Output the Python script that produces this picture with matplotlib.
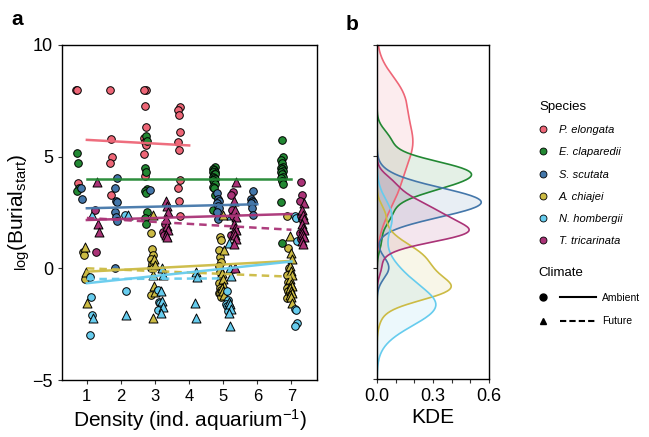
import numpy as np
import matplotlib
matplotlib.use('Agg')
import matplotlib.pyplot as plt
from matplotlib.lines import Line2D
from matplotlib.legend_handler import HandlerBase

plt.rcParams['font.family'] = ['Liberation Sans', 'DejaVu Sans']
plt.rcParams['mathtext.default'] = 'regular'

species = ['P. elongata', 'E. claparedii', 'S. scutata', 'A. chiajei', 'N. hombergii', 'T. tricarinata']
colors = ['#EE6677', '#228833', '#4477AA', '#CCBB44', '#66CCEE', '#AA3377']

# ambient (circles): density, value per species
amb_dens = [
    [1] * 3 + [2] * 5 + [3] * 9 + [4] * 10,
    [1] * 4 + [3] * 10 + [5] * 17 + [7] * 16,
    [1] * 2 + [2] * 8 + [3] * 2 + [5] * 8 + [6] * 7,
    [1] * 3 + [3] * 7 + [5] * 14 + [7] * 10,
    [1] * 4 + [2] * 2 + [3] * 4 + [5] * 5 + [7] * 7,
    [1] * 2 + [3] * 3 + [5] * 5 + [7] * 7,
]
amb_vals = [
    [8.0, 8.0, 3.8,
     8.0, 5.78, 5.0, 4.7, 3.28,
     8.0, 8.0, 7.28, 6.31, 5.82, 5.65, 5.5, 5.1, 4.15,
     7.2, 7.09, 6.87, 6.12, 5.67, 5.3, 3.95, 3.58, 3.0, 2.34],
    [5.18, 4.69, 3.6, 3.45,
     5.9, 5.7, 4.5, 4.3, 3.55, 3.45, 3.35, 2.54, 2.24, 2.0,
     4.55, 4.45, 4.4, 4.3, 4.3, 4.2, 4.2, 4.1, 4.05, 4.0, 3.95, 3.85, 3.75, 3.65, 3.58, 3.3, 2.6,
     5.75, 5.0, 4.85, 4.7, 4.55, 4.5, 4.45, 4.35, 4.3, 4.2, 4.1, 4.05, 3.9, 3.75, 2.98, 1.15],
    [3.6, 3.1,
     4.03, 3.6, 3.0, 2.95, 2.5, 2.3, 2.1, 0.0,
     3.5, 0.0,
     3.35, 3.1, 3.0, 2.9, 2.8, 2.7, 2.5, 2.2,
     3.45, 3.1, 3.0, 2.95, 2.9, 2.7, 2.4],
    [0.74, 0.6, -0.5,
     1.6, 0.85, 0.6, 0.4, 0.2, 0.0, -1.2,
     1.4, 1.27, 0.8, 0.5, 0.3, 0.1, -0.15, -0.45, -0.66, -0.9, -0.97, -1.1, -1.1, -1.3,
     2.34, 0.9, 0.0, -0.3, -0.6, -0.8, -0.9, -1.0, -1.2, -1.35],
    [-0.4, -1.3, -2.09, -3.0,
     2.4, -1.0,
     -0.95, -1.5, -1.55, -1.85,
     -1.0, -1.4, -1.6, -1.7, -1.9,
     2.34, 2.25, 1.2, -1.8, -1.87, -2.45, -2.6],
    [2.6, 0.72,
     2.0, 1.64, 1.5,
     3.4, 3.3, 2.6, 2.35, 1.5,
     3.85, 3.3, 3.0, 2.34, 2.2, 1.6, 1.3],
]

# future (triangles)
fut_dens = [
    [],
    [],
    [],
    [1] * 3 + [3] * 7 + [5] * 8 + [7] * 15,
    [1] * 2 + [2] * 2 + [3] * 6 + [4] * 4 + [5] * 9,
    [1] * 3 + [3] * 8 + [5] * 12 + [7] * 12,
]
fut_vals = [
    [],
    [],
    [],
    [0.97, -0.15, -1.54,
     2.38, 0.4, 0.15, -0.3, -0.8, -1.05, -2.24,
     2.38, 0.82, -0.2, -0.5, -0.8, -0.9, -1.0, -1.2,
     1.45, 0.67, 0.4, 0.1, -0.1, -0.3, -0.5, -0.7, -0.8, -0.9, -1.0, -1.1, -1.2, -1.3, -1.56],
    [2.38, -2.23,
     2.4, -2.09,
     0.0, -0.3, -1.0, -1.45, -1.72, -2.0,
     -0.15, -0.4, -1.54, -2.24,
     2.38, 1.12, 0.0, -0.35, -1.5, -1.6, -1.8, -2.0, -2.58],
    [3.85, 2.0, 1.64,
     3.0, 2.8, 2.5, 2.2, 1.9, 1.7, 1.5, 1.4,
     3.88, 3.0, 2.6, 2.3, 2.0, 1.8, 1.7, 1.6, 1.5, 1.3, 1.1, 0.0,
     2.9, 2.6, 2.4, 2.2, 2.0, 1.8, 1.7, 1.6, 1.5, 1.4, 1.2, 1.1],
]

# fitted lines (intercept, slope)
amb_fit = [(5.83, -0.083), (4.0, 0.0), (2.65, 0.036), (-0.23, 0.08), (-0.83, 0.162), (2.115, 0.045)]
fut_fit = [None, None, None, (0.063, -0.063), (-0.49, 0.0075), (2.34, -0.088)]

sp_off = [-0.27, -0.24, -0.12, -0.06, 0.15, 0.3]

fig = plt.figure(figsize=(6.49, 4.37), dpi=100)
ax = fig.add_axes([0.0955, 0.1304, 0.3935, 0.767])
ax2 = fig.add_axes([0.581, 0.1327, 0.1726, 0.7647])

for i in range(6):
    for dens, vals, mk, cl_off, sz in [(amb_dens[i], amb_vals[i], 'o', -0.03, 30),
                                       (fut_dens[i], fut_vals[i], '^', 0.04, 42)]:
        if len(dens) == 0:
            continue
        d = np.array(dens, dtype=float)
        jit = 0.03 * ((np.arange(len(d)) % 3) - 1)
        ax.scatter(d + sp_off[i] + cl_off + jit, vals, s=sz, marker=mk, c=colors[i],
                   edgecolors='black', linewidths=0.7, zorder=2)

for i in range(6):
    for dens, fit, ls in [(amb_dens[i], amb_fit[i], '-'), (fut_dens[i], fut_fit[i], (0, (3, 2)))]:
        if fit is None:
            continue
        xs = np.linspace(min(dens), max(dens), 20)
        ax.plot(xs, fit[0] + fit[1] * xs, color=colors[i], lw=1.8, ls=ls, zorder=3, alpha=0.95)

ax.set_xlim(0.27, 7.76)
ax.set_ylim(-5, 10)
ax.set_xticks(range(1, 8))
ax.set_yticks([-5, 0, 5, 10])
ax.tick_params(axis='y', labelsize=13, length=3, width=0.8, colors='#333333', labelcolor='black')
ax.tick_params(axis='x', labelsize=12, length=3, width=0.8, colors='#333333', labelcolor='black')
ax.set_xlabel('Density (ind. aquarium$^{-1}$)', fontsize=15, labelpad=2)
ax.set_ylabel('$_{log}$(Burial$_{start}$)', fontsize=15, labelpad=0)
for s in ax.spines.values():
    s.set_linewidth(1.0)

# KDE panel
grid = np.linspace(-5, 10, 400)
for i in range(6):
    v = np.array(amb_vals[i] + fut_vals[i])
    bw = v.std(ddof=1) * len(v) ** (-0.2)
    dens_k = np.exp(-0.5 * ((grid[:, None] - v[None, :]) / bw) ** 2).sum(axis=1)
    dens_k /= len(v) * bw * np.sqrt(2 * np.pi)
    ax2.fill_betweenx(grid, 0, dens_k, color=colors[i], alpha=0.12, lw=0)
    ax2.plot(dens_k, grid, color=colors[i], lw=1.2)

ax2.set_ylim(-5, 10)
ax2.set_xlim(0, 0.6)
ax2.set_yticks([-5, 0, 5, 10])
ax2.set_yticklabels([])
ax2.set_xticks([0, 0.1, 0.2, 0.3, 0.4, 0.5, 0.6])
ax2.set_xticklabels(['0.0', '', '', '0.3', '', '', '0.6'])
ax2.tick_params(labelsize=13, length=3, width=0.8, colors='#333333', labelcolor='black')
ax2.set_xlabel('KDE', fontsize=15, labelpad=2)
for s in ax2.spines.values():
    s.set_linewidth(1.0)

fig.text(0.018, 0.955, 'a', fontsize=15, fontweight='bold', va='center')
fig.text(0.532, 0.945, 'b', fontsize=15, fontweight='bold', va='center')

# legends
sp_handles = [Line2D([], [], marker='o', ls='none', markerfacecolor=c, markeredgecolor='black',
                     markeredgewidth=0.6, markersize=5) for c in colors]
leg1 = fig.legend(sp_handles, species, loc='upper left', bbox_to_anchor=(0.815, 0.792),
                  frameon=False, title='Species', fontsize=8, title_fontsize=9.5,
                  labelspacing=1.1, handlelength=0.8, handletextpad=1.0, alignment='left')
for t in leg1.get_texts():
    t.set_fontstyle('italic')


class PointLine(HandlerBase):
    def create_artists(self, legend, orig_handle, xdescent, ydescent, width, height, fontsize, trans):
        mk, ls = orig_handle
        y = height / 2 - ydescent
        pt = Line2D([-xdescent + 0.08 * width], [y], marker=mk, color='black', ls='none',
                    markersize=5, transform=trans)
        ln = Line2D([-xdescent + 0.38 * width, -xdescent + width], [y, y], color='black',
                    ls=ls, lw=1.5, transform=trans)
        return [pt, ln]


clim_handles = [('o', '-'), ('^', (0, (3, 1.5)))]
leg2 = fig.legend(clim_handles, ['Ambient', 'Future'], loc='upper left',
                  bbox_to_anchor=(0.815, 0.41), frameon=False, title='Climate',
                  fontsize=7.5, title_fontsize=9.5, labelspacing=1.3, handlelength=5.5,
                  handletextpad=0.6, alignment='left', handler_map={tuple: PointLine()})

fig.savefig('out.png', dpi=100)
